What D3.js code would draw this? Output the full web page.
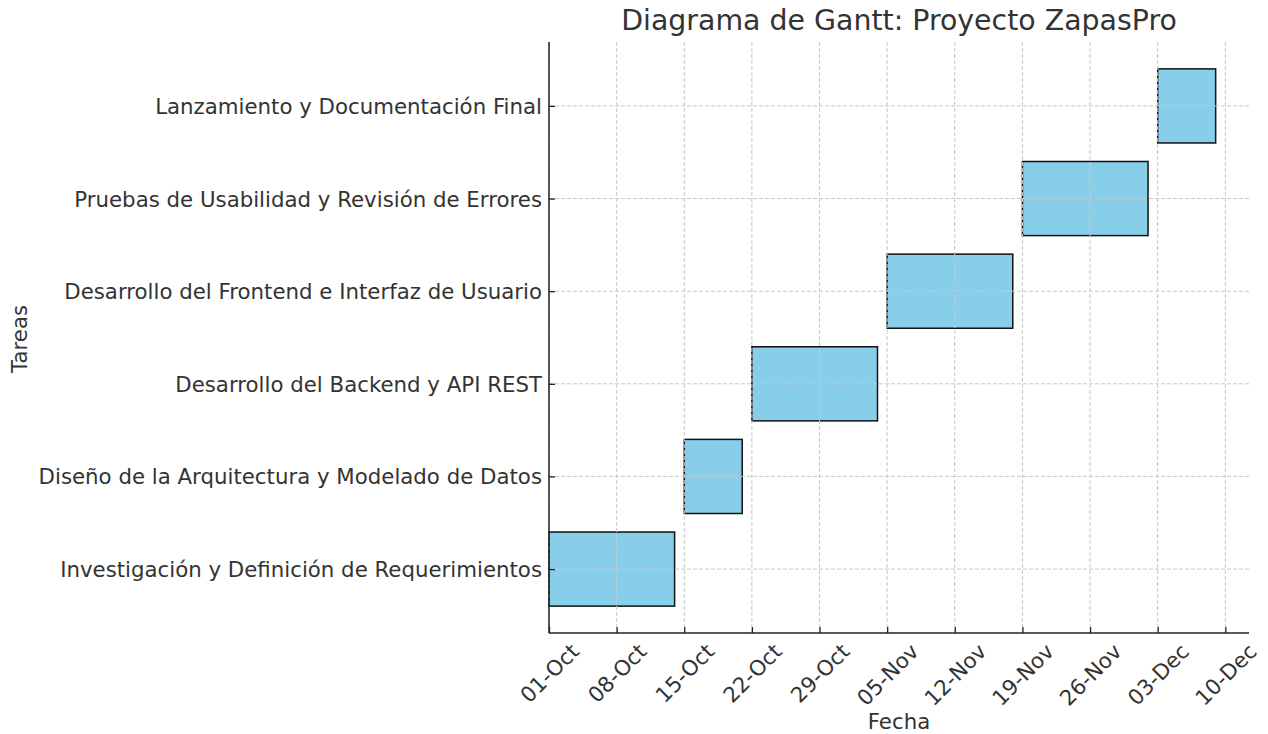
<!DOCTYPE html>
<html>
<head>
<meta charset="utf-8">
<script src="https://cdn.jsdelivr.net/npm/d3@7"></script>
<style>
  html, body { margin: 0; padding: 0; background: #fff; }
  svg { display: block; font-family: "DejaVu Sans", sans-serif; }
</style>
</head>
<body>
<svg id="chart" width="1268" height="734"></svg>
<script>
const tasks = [
  "Investigación y Definición de Requerimientos",
  "Diseño de la Arquitectura y Modelado de Datos",
  "Desarrollo del Backend y API REST",
  "Desarrollo del Frontend e Interfaz de Usuario",
  "Pruebas de Usabilidad y Revisión de Errores",
  "Lanzamiento y Documentación Final"
];
const startDates = ["2023-10-01", "2023-10-15", "2023-10-22", "2023-11-05", "2023-11-19", "2023-12-03"];
const endDates   = ["2023-10-14", "2023-10-21", "2023-11-04", "2023-11-18", "2023-12-02", "2023-12-09"];
const tickDates  = ["2023-10-01", "2023-10-08", "2023-10-15", "2023-10-22", "2023-10-29", "2023-11-05",
                    "2023-11-12", "2023-11-19", "2023-11-26", "2023-12-03", "2023-12-10"];
const tickLabels = ["01-Oct", "08-Oct", "15-Oct", "22-Oct", "29-Oct", "05-Nov",
                    "12-Nov", "19-Nov", "26-Nov", "03-Dec", "10-Dec"];
const xDomain = ["2023-10-01T00:00", "2023-12-12T10:48"];

const parse = d3.utcParse("%Y-%m-%d");
const parseT = d3.utcParse("%Y-%m-%dT%H:%M");

const W = 1268, H = 734;
const m = { left: 549, right: 19, top: 42, bottom: 101 };
const iw = W - m.left - m.right, ih = H - m.top - m.bottom;
const textColor = "#333333";
const fs = 21.3;

const svg = d3.select("#chart");
const g = svg.append("g").attr("transform", `translate(${m.left},${m.top})`);

const x = d3.scaleUtc().domain(xDomain.map(parseT)).range([0, iw]);
const y = d3.scaleLinear().domain([-0.69, tasks.length - 1 + 0.69]).range([ih, 0]);
const barH = y(0) - y(0.8);

const data = tasks.map((t, i) => ({ task: t, i, s: parse(startDates[i]), e: parse(endDates[i]) }));
const ticks = tickDates.map(parse);

// bars
g.selectAll("rect.bar").data(data).join("rect")
  .attr("class", "bar")
  .attr("x", d => x(d.s))
  .attr("y", d => y(d.i) - barH / 2)
  .attr("width", d => x(d.e) - x(d.s))
  .attr("height", barH)
  .attr("fill", "#87CEEB")
  .attr("stroke", "#111")
  .attr("stroke-width", 1.5);

// grid (drawn above bars)
const grid = g.append("g").attr("stroke", "#c8c8c8").attr("stroke-width", 1).attr("stroke-dasharray", "4,2");
grid.selectAll("line.vx").data(ticks).join("line")
  .attr("x1", d => x(d)).attr("x2", d => x(d)).attr("y1", 0).attr("y2", ih);
grid.selectAll("line.hy").data(data).join("line")
  .attr("x1", 0).attr("x2", iw).attr("y1", d => y(d.i)).attr("y2", d => y(d.i));

// x axis (ticks pointing inward)
const xAxis = d3.axisBottom(x).tickValues(ticks).tickFormat((d, i) => tickLabels[i]).tickSizeInner(-6).tickSizeOuter(0);
const xg = g.append("g").attr("transform", `translate(0,${ih})`).call(xAxis);
xg.select(".domain").attr("stroke", "#222").attr("stroke-width", 1.5).attr("d", `M0,0H${iw}`);
xg.selectAll(".tick line").attr("stroke", "#222").attr("stroke-width", 1.3);
xg.selectAll(".tick text").each(function () {
  const t = d3.select(this);
  t.attr("font-size", fs).attr("fill", textColor).attr("font-family", "DejaVu Sans")
   .attr("text-anchor", "middle").attr("dy", null).attr("dominant-baseline", "central");
  const L = this.getComputedTextLength();
  const h = fs * 0.75;
  const bh = (L + h) * Math.SQRT1_2;
  const cy = 9 + bh / 2;
  t.attr("y", 0).attr("transform", `translate(0,${cy}) rotate(-45)`);
});

// y axis (ticks pointing inward)
const yAxis = d3.axisLeft(y).tickValues(data.map(d => d.i)).tickFormat(i => tasks[i]).tickSizeInner(-6).tickSizeOuter(0);
const yg = g.append("g").call(yAxis);
yg.select(".domain").attr("stroke", "#222").attr("stroke-width", 1.5).attr("d", `M0,0V${ih}`);
yg.selectAll(".tick line").attr("stroke", "#222").attr("stroke-width", 1.3);
yg.selectAll(".tick text").attr("font-size", fs).attr("fill", textColor)
  .attr("font-family", "DejaVu Sans").attr("x", -7).attr("dy", "0.35em");

// axis labels
svg.append("text").attr("x", m.left + iw / 2).attr("y", 729)
  .attr("text-anchor", "middle").attr("font-size", fs).attr("fill", textColor).text("Fecha");
svg.append("text").attr("transform", `translate(27,339) rotate(-90)`)
  .attr("text-anchor", "middle").attr("font-size", fs).attr("fill", textColor).text("Tareas");

// title
svg.append("text").attr("x", m.left + iw / 2).attr("y", 30)
  .attr("text-anchor", "middle").attr("font-size", 28.4).attr("fill", textColor)
  .text("Diagrama de Gantt: Proyecto ZapasPro");
</script>
</body>
</html>
